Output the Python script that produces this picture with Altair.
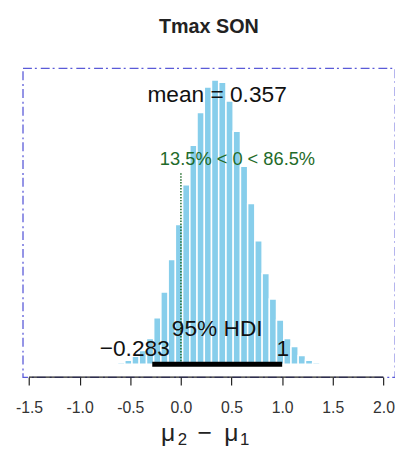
import altair as alt
import pandas as pd

# ---- data ----
bin_edges = [-0.697, -0.626, -0.554, -0.483, -0.412, -0.340, -0.269, -0.198, -0.126, -0.055,
             0.017, 0.088, 0.159, 0.231, 0.302, 0.373, 0.445, 0.516, 0.588, 0.659,
             0.730, 0.802, 0.873, 0.944, 1.016, 1.087, 1.158, 1.230, 1.301, 1.373]
density = [0.004, 0.008, 0.017, 0.034, 0.059, 0.11, 0.20, 0.31, 0.45, 0.60,
           0.77, 0.94, 1.08, 1.19, 1.22, 1.21, 1.13, 1.00, 0.85, 0.69,
           0.53, 0.39, 0.28, 0.19, 0.11, 0.076, 0.038, 0.017, 0.008]
tick_values = [-1.5, -1.0, -0.5, 0.0, 0.5, 1.0, 1.5, 2.0]

title_text = "Tmax SON"
mean_value = 0.357
mean_label = "mean = 0.357"
hdi_low = -0.283
hdi_high = 1.0
hdi_labels = ["\u22120.283", "1"]
hdi_label = "95% HDI"
comp_value = 0.0
comp_height = 0.82
comp_label = "13.5% < 0 < 86.5%"

FONT = "Liberation Sans"
W, H = 377, 313
X_DOMAIN = [-1.5614, 2.1141]
Y_DOMAIN = [-0.0551, 1.2712]

xs = alt.Scale(domain=X_DOMAIN, nice=False, zero=False)
ys = alt.Scale(domain=Y_DOMAIN, nice=False, zero=False)

bars_df = pd.DataFrame({"x0": bin_edges[:-1], "x1": bin_edges[1:], "d": density})

bars = alt.Chart(bars_df).mark_rect(color="#87CEEB", stroke="white", strokeWidth=1.5).encode(
    x=alt.X("x0:Q", scale=xs, title=None,
            axis=alt.Axis(values=tick_values, domain=False, grid=False, tickSize=8,
                          tickColor="#222", tickWidth=1.2, labelFontSize=16, labelFont=FONT,
                          labelColor="#333", labelPadding=15, labelFlush=False,
                          labelExpr="datum.value < 0 ? '-' + format(-datum.value, '.1f') : format(datum.value, '.1f')")),
    x2="x1:Q",
    y=alt.Y("d:Q", scale=ys, axis=None),
    y2=alt.datum(0),
)

axis_line = alt.Chart(pd.DataFrame({"a": [tick_values[0]], "b": [tick_values[-1]]})).mark_rule(
    color="#222", strokeWidth=1.3).encode(
    x=alt.X("a:Q", scale=xs), x2="b:Q", y=alt.value(H))

hdi_df = pd.DataFrame({"lo": [hdi_low], "hi": [hdi_high], "z": [0.0]})
hdi_line = alt.Chart(hdi_df).mark_rule(color="black", strokeWidth=5).encode(
    x=alt.X("lo:Q", scale=xs), x2="hi:Q", y=alt.Y("z:Q", scale=ys))

comp_df = pd.DataFrame({"c": [comp_value], "z": [0.0], "h": [comp_height]})
comp_line = alt.Chart(comp_df).mark_rule(color="#1f6b2a", strokeWidth=1.5, strokeDash=[1.5, 1.5]).encode(
    x=alt.X("c:Q", scale=xs), y=alt.Y("z:Q", scale=ys), y2="h:Q")

mean_txt = alt.Chart(pd.DataFrame({"x": [mean_value], "y": [1.125], "t": [mean_label]})).mark_text(
    font=FONT, fontSize=23, color="#111", baseline="alphabetic", align="center").encode(
    x=alt.X("x:Q", scale=xs), y=alt.Y("y:Q", scale=ys), text="t:N")

comp_txt = alt.Chart(pd.DataFrame({"x": [-0.208], "y": [0.856], "t": [comp_label]})).mark_text(
    font=FONT, fontSize=18.5, color="#1f6b2a", baseline="alphabetic", align="left").encode(
    x=alt.X("x:Q", scale=xs), y=alt.Y("y:Q", scale=ys), text="t:N")

hdi_txt = alt.Chart(pd.DataFrame({"x": [(hdi_low + hdi_high) / 2], "y": [0.123], "t": [hdi_label]})).mark_text(
    font=FONT, fontSize=23, color="#111", baseline="alphabetic", align="center").encode(
    x=alt.X("x:Q", scale=xs), y=alt.Y("y:Q", scale=ys), text="t:N")

hdi_end_txt = alt.Chart(pd.DataFrame({"x": [-0.456, 1.006], "y": [0.034, 0.034], "t": hdi_labels})).mark_text(
    font=FONT, fontSize=23, color="#111", baseline="alphabetic", align="center").encode(
    x=alt.X("x:Q", scale=xs), y=alt.Y("y:Q", scale=ys), text="t:N")

title = alt.Chart(pd.DataFrame({"t": [title_text]})).mark_text(
    font=FONT, fontSize=20, fontWeight="bold", color="#222", baseline="middle", align="center").encode(
    x=alt.value(W / 2), y=alt.value(-42), text="t:N")

# x-axis title  mu_2 - mu_1, built from pieces (big glyphs and subscripts)
xt_big = alt.Chart(pd.DataFrame({"px": [140, 177, 204], "t": ["\u03bc", "\u2212", "\u03bc"]})).mark_text(
    font=FONT, fontSize=25, color="#222", baseline="alphabetic", align="left").encode(
    x=alt.X("px:Q", scale=None), y=alt.value(378), text="t:N")
xt_sub = alt.Chart(pd.DataFrame({"px": [157, 220], "t": ["2", "1"]})).mark_text(
    font=FONT, fontSize=17, color="#222", baseline="alphabetic", align="left").encode(
    x=alt.X("px:Q", scale=None), y=alt.value(382), text="t:N")

chart = alt.layer(
    bars, comp_line, hdi_line, axis_line, mean_txt, comp_txt, hdi_txt, hdi_end_txt, title, xt_big, xt_sub
).properties(
    width=W, height=H,
    autosize=alt.AutoSizeParams(type="none"),
    padding={"left": 15, "top": 58, "right": 0, "bottom": 72},
).configure_view(
    stroke="#5a5ad8", strokeDash=[9, 3, 2, 4], strokeWidth=1.3
)

chart.save("out.html", embed_options={"renderer": "svg", "actions": False})
